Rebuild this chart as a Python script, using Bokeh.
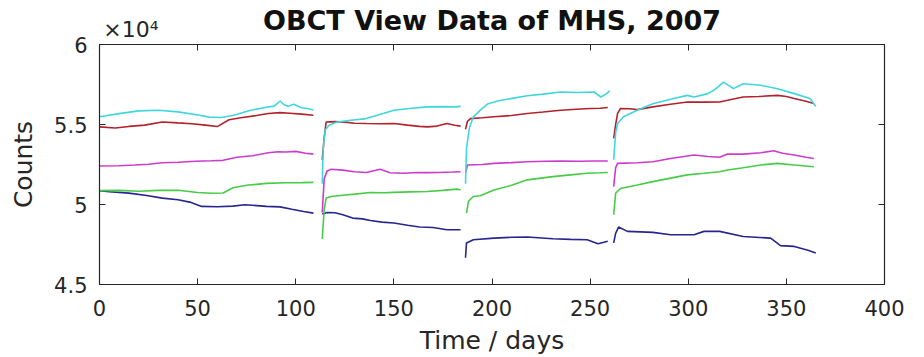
import math
from bokeh.plotting import figure
from bokeh.models import Range1d, LinearAxis, FixedTicker, CustomJSTickFormatter
from bokeh.embed import file_html
from bokeh.resources import INLINE

nan = float("nan")

# ---- data (day of year, OBCT counts); NaN separates the four measurement periods ----
cyan_days = [0, 10, 20, 30, 40, 51, 56, 62, 68, 77, 85, 89, 92, 94, 96, 99, 103, 106, 109, nan,
             113.5, 114, 115, 117, 121, 128, 135, 142, 150, 158, 167, 175, 182, 184, nan,
             186.5, 187, 188.5, 190.5, 194, 198, 204, 211, 218, 226, 235, 243, 252, 255.5, 258, 260, nan,
             262, 263, 264, 267, 274, 282, 290, 299.5, 303, 310, 313, 315, 318, 323, 328, 337, 345.5, 354, 362, 365]
cyan_vals = [55480, 55680, 55850, 55890, 55790, 55580, 55460, 55440, 55560, 55890, 56080, 56150, 56470, 56250, 56140, 56270, 56050, 56000, 55900, nan,
             51300, 53500, 54650, 54950, 55150, 55270, 55350, 55600, 55890, 56000, 56100, 56120, 56100, 56150, nan,
             51300, 53500, 54800, 55480, 55900, 56300, 56500, 56650, 56800, 56900, 57030, 57000, 57030, 56720, 56900, 57100, nan,
             52800, 54500, 55060, 55480, 55890, 56300, 56550, 56820, 56720, 56930, 57140, 57340, 57650, 57240, 57550, 57450, 57240, 56930, 56620, 56140]

red_days = [0, 8, 15, 23, 32, 40, 47, 54, 60, 66, 72, 80, 86, 92, 97, 103, 109, nan,
            113.5, 114.5, 115.5, 120, 125, 130, 136, 143, 150, 157, 163, 167, 172, 177, 181, 184, nan,
            186.5, 187.5, 189, 195, 201, 210, 218, 226, 235, 243, 250, 255, 259, nan,
            262, 263, 264, 265.5, 270, 274, 282, 290, 299.5, 308, 316, 320, 328, 336, 345.5, 350, 354, 360, 364]
red_vals = [54850, 54780, 54880, 54960, 55160, 55100, 55050, 54960, 54870, 55300, 55420, 55560, 55690, 55740, 55700, 55650, 55580, nan,
            52800, 54200, 55160, 55180, 55150, 55080, 55060, 55050, 55060, 54960, 54880, 54850, 54900, 55060, 54950, 54900, nan,
            54700, 55200, 55370, 55420, 55480, 55560, 55690, 55780, 55890, 55950, 56000, 56020, 56060, nan,
            54130, 55000, 55690, 56000, 55980, 55930, 56100, 56250, 56410, 56400, 56410, 56510, 56720, 56750, 56820, 56750, 56620, 56450, 56310]

magenta_days = [0, 10, 18, 25, 32, 40, 49, 57, 63, 70, 78, 86, 91, 95, 100, 105, 109, nan,
                113.5, 114.5, 116, 118, 124, 130, 136, 143, 148, 155, 162, 167, 173, 180, 184, nan,
                186.5, 187.5, 195, 201, 210, 218, 227, 235, 245, 252, 259, nan,
                262, 263, 264, 274, 282, 291, 299.5, 303, 310, 316, 320, 328, 337, 343.5, 348, 354, 360, 364]
magenta_vals = [52410, 52420, 52470, 52520, 52610, 52640, 52700, 52730, 52760, 52950, 53050, 53230, 53300, 53280, 53320, 53200, 53150, nan,
                49500, 51600, 52100, 52200, 52150, 52050, 52000, 52200, 51980, 51950, 52000, 51990, 52000, 52030, 52050, nan,
                52000, 52470, 52500, 52570, 52620, 52670, 52700, 52720, 52700, 52720, 52720, nan,
                51120, 52300, 52570, 52610, 52670, 52880, 53030, 53090, 53000, 52950, 53150, 53150, 53230, 53360, 53200, 53090, 52950, 52880]

green_days = [0, 10, 20, 30, 40, 50, 57, 63, 68, 75, 85, 95, 103, 109, nan,
              113.5, 114.5, 115.5, 118, 124, 130, 138, 145, 150, 158, 167, 175, 182, 184, nan,
              187, 188, 190.5, 194, 201, 210, 218, 231, 240, 248.5, 255, 259, nan,
              262, 263, 265.5, 274, 282, 291, 299.5, 308, 316, 320, 328, 337, 345.5, 354, 364]
green_vals = [50870, 50880, 50830, 50880, 50890, 50750, 50700, 50720, 51050, 51200, 51320, 51360, 51370, 51380, nan,
              47850, 49700, 50400, 50500, 50580, 50650, 50750, 50730, 50760, 50790, 50810, 50880, 50960, 50920, nan,
              49460, 50200, 50500, 50550, 50900, 51200, 51540, 51740, 51850, 51950, 51980, 52000, nan,
              49360, 50710, 51000, 51220, 51430, 51650, 51850, 51950, 52050, 52160, 52300, 52470, 52570, 52470, 52360]

blue_days = [0, 5, 15, 24, 32, 40, 46, 52, 60, 68, 74, 78, 85, 92, 98, 104, 109, nan,
             113.5, 116, 120, 124, 129, 134, 138, 144, 150, 157, 163, 170, 177, 184, nan,
             186.5, 187, 190.5, 201, 210, 218, 231, 240, 248.5, 254, 259, nan,
             262, 263, 264.5, 269, 282, 291, 303, 308, 316, 328, 342, 347, 354, 361, 365]
blue_vals = [50860, 50800, 50710, 50560, 50400, 50300, 50150, 49880, 49860, 49900, 49980, 49950, 49880, 49850, 49700, 49560, 49460, nan,
             49400, 49500, 49480, 49360, 49150, 49100, 49000, 48900, 48840, 48700, 48590, 48560, 48420, 48420, nan,
             46670, 47600, 47800, 47900, 47950, 47970, 47860, 47820, 47800, 47550, 47700, nan,
             47600, 48200, 48590, 48320, 48260, 48110, 48110, 48320, 48320, 48000, 47900, 47430, 47380, 47140, 46970]

x_ticks = [0, 50, 100, 150, 200, 250, 300, 350, 400]
y_ticks = [45000, 50000, 55000, 60000]
y_tick_labels = ["4.5", "5", "5.5", "6"]

title_text = "OBCT View Data of MHS, 2007"
x_label = "Time / days"
y_label = "Counts"
exponent_text = "×10⁴"   # y-axis multiplier shown above the top-left corner

FONT = "DejaVu Sans"
AX = "#262626"

p = figure(width=924, height=357, output_backend="svg", toolbar_location=None,
           x_range=Range1d(0, 400), y_range=Range1d(45000, 60000),
           min_border_left=99, min_border_right=40, min_border_top=44, min_border_bottom=72)
p.background_fill_color = "white"
p.border_fill_color = "white"
p.outline_line_color = AX
p.xgrid.visible = False
p.ygrid.visible = False

p.title.text = title_text
p.title.align = "center"
p.title.text_font = FONT
p.title.text_font_style = "bold"
p.title.text_font_size = "27px"
p.title.text_color = "#111111"
p.title.standoff = -44

series = [
    (blue_days, blue_vals, "#26268f"),
    (green_days, green_vals, "#46cc46"),
    (magenta_days, magenta_vals, "#cc3ccc"),
    (red_days, red_vals, "#b3222b"),
    (cyan_days, cyan_vals, "#3fd6dc"),
]
for d, v, c in series:
    p.line(d, v, line_color=c, line_width=1.6)

def style_axis(ax):
    ax.axis_line_color = AX
    ax.axis_line_width = 1.2
    ax.major_tick_line_color = AX
    ax.major_tick_in = 6
    ax.major_tick_out = 0
    ax.minor_tick_line_color = None
    ax.major_label_text_font = FONT
    ax.major_label_text_color = AX

# bottom / left axes
xa = p.xaxis[0]
xa.ticker = FixedTicker(ticks=x_ticks)
style_axis(xa)
xa.major_label_text_font_size = "21px"
xa.major_label_standoff = 15
xa.axis_label = x_label
xa.axis_label_text_font = FONT
xa.axis_label_text_font_size = "25px"
xa.axis_label_text_font_style = "normal"
xa.axis_label_text_color = AX
xa.axis_label_standoff = 7

ya = p.yaxis[0]
ya.ticker = FixedTicker(ticks=y_ticks)
ya.major_label_overrides = {t: s for t, s in zip(y_ticks, y_tick_labels)}
style_axis(ya)
ya.major_label_text_font_size = "21px"
ya.major_label_standoff = 12
ya.axis_label = y_label
ya.axis_label_text_font = FONT
ya.axis_label_text_font_size = "25px"
ya.axis_label_text_font_style = "normal"
ya.axis_label_text_color = AX
ya.axis_label_standoff = 13

# mirrored box axes: ticks only; the top one carries the "×10⁴" multiplier
blank = CustomJSTickFormatter(code="return ''")
top = LinearAxis(ticker=FixedTicker(ticks=x_ticks), formatter=blank, major_label_standoff=3)
style_axis(top)
top.major_label_text_font_size = "22px"
top.major_label_overrides = {x_ticks[0]: "\u00a0" * 9 + exponent_text}
p.add_layout(top, "above")
right = LinearAxis(ticker=FixedTicker(ticks=y_ticks), formatter=blank, major_label_standoff=0)
style_axis(right)
p.add_layout(right, "right")

open("out.html", "w").write(file_html(p, INLINE))
